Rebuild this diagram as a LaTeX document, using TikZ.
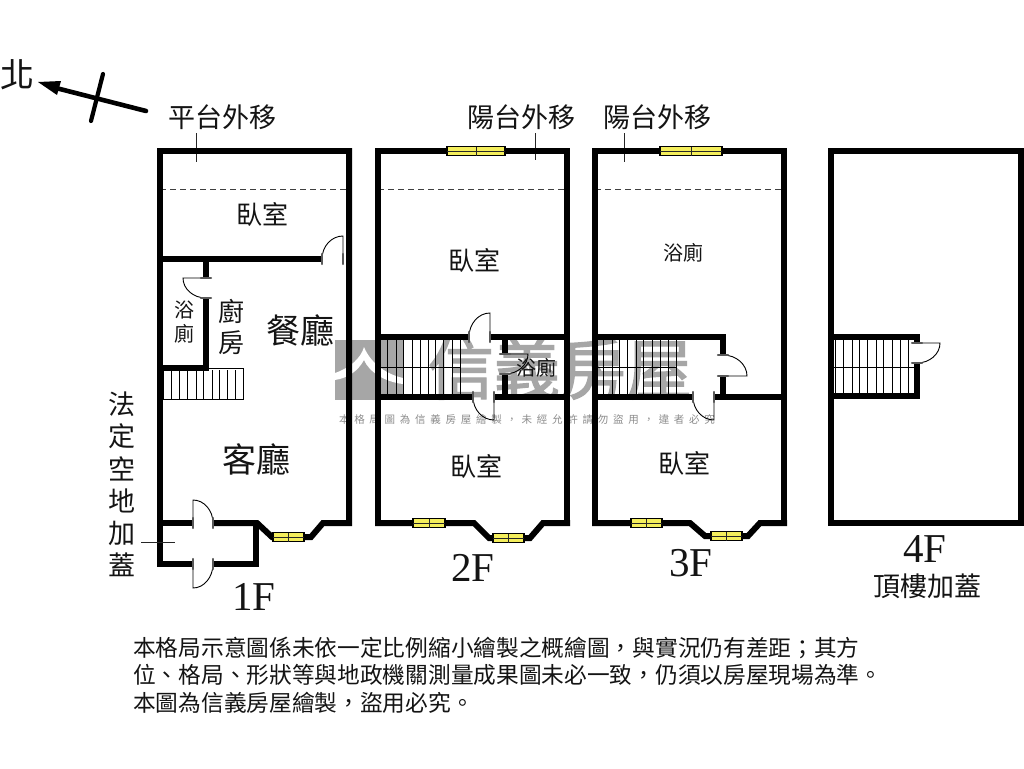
\documentclass[tikz,border=0pt]{standalone}
\usepackage{fontspec}
\usetikzlibrary{calc}
\setmainfont{Liberation Serif}
\newfontfamily\cjk{Noto Sans CJK TC}
\newfontfamily\wmbig[FakeBold=2]{Noto Sans CJK TC}
\newfontfamily\wmsmall[LetterSpace=45]{Noto Sans CJK TC}
\definecolor{wmgray}{gray}{0.65}
\definecolor{winyellow}{HTML}{F4EE5C}
\newcommand{\sz}[1]{\fontsize{#1}{#1}\selectfont}
% hinge, leaf tip, jamb on far side
\newcommand{\doorswing}[3]{%
  \draw[doorline] (#1) -- (#2) .. controls ($(#2)+0.55*(#3)-0.55*(#1)$) and ($(#3)+0.55*(#2)-0.55*(#1)$) .. (#3);}
\newcommand{\windowbar}[3]{%
  \draw[winbox] (#1-#3,#2-4.5) rectangle (#1+#3,#2+4.5);
  \draw[winline] (#1-#3,#2) -- (#1+#3,#2) (#1,#2-4.5) -- (#1,#2+4.5);}
\tikzset{
  wall/.style={line width=6pt,line join=miter,line cap=butt,black},
  doorline/.style={line width=0.9pt,black},
  jamb/.style={line width=2.2pt,black!65,line cap=round},
  treads/.style={line width=1pt,black},
  lead/.style={line width=0.8pt,black!85},
  sep/.style={line width=0.9pt,black!75,dash pattern=on 6pt off 4pt},
  winbox/.style={draw=black,line width=1.2pt,fill=winyellow},
  winline/.style={line width=0.9pt,black!85},
  txt/.style={font=\cjk\sz{#1},inner sep=0pt,text=black!92},
  lat/.style={font=\rmfamily\sz{#1},inner sep=0pt,text=black!92},
}
\begin{document}
\begin{tikzpicture}[x=1pt,y=-1pt]
\useasboundingbox (0,0) rectangle (1024,768);
\fill[white] (0,0) rectangle (1024,768);

% ---- watermark ----
\fill[wmgray] (335,340) rectangle (403,400);
\fill[white] (335,373) .. controls (350,368) and (361,358) .. (364,347)
  .. controls (370,362) and (385,374) .. (403,378) -- (403,384)
  .. controls (385,382) and (369,372) .. (364,360)
  .. controls (358,371) and (348,378) .. (335,380) -- cycle;
\node[font=\wmbig\sz{66},text=wmgray,inner sep=0pt] (wmA) at (560,369) {信義房屋};
\node[font=\wmsmall\sz{10.5},text=black!45,inner sep=0pt] (wmB) at (527,420) {本格局圖為信義房屋繪製，未經允許請勿盜用，違者必究};

% ---- north arrow ----
\draw[line width=4.6pt,line cap=round] (146,111) -- (56,88);
\fill (38,82) -- (61,81) -- (57,95) -- cycle;
\draw[line width=4.2pt,line cap=round] (103,74) -- (91,121);
\node[txt=34] (north) at (17,75) {北};

% ---- 1F ----
\draw[lead] (196,133) -- (196,162);
\draw[sep] (160,189) -- (349,189);
\draw[treads] (163,368) rectangle (243,399);
\foreach \x in {171,179,187,196,203,212,219,227,235} \draw[treads] (\x,370) -- (\x,399);
\draw[wall] (322,259) -- (160,259);
\draw[wall] (206,259) -- (206,278);
\draw[wall] (206,298) -- (206,371);
\draw[wall] (160,368) -- (209,368);
\draw[wall] (192,523) -- (157,523);
\draw[wall] (160,148) -- (160,567);
\draw[wall] (157,151) -- (352,151);
\draw[wall] (349,148) -- (349,523) -- (323,523) -- (311,537) -- (304,537);
\draw[wall] (213,523) -- (257,523) -- (272,537) -- (280,537);
\draw[wall] (157,564) -- (192,564);
\draw[wall] (213,564) -- (259,564);
\draw[wall] (256,523) -- (256,567);
\windowbar{288.5}{537}{15.5}
\doorswing{343,259}{343,236}{322,259}
\doorswing{206,278}{183,278}{206,298}
\doorswing{193,523}{193,500}{213,523}
\doorswing{193,564}{193,588}{213,564}
\draw[jamb] (322,254) -- (322,264) (343,254) -- (343,264);
\draw[jamb] (201,278) -- (211,278) (201,298) -- (211,298);
\draw[jamb] (193,518) -- (193,528) (213,518) -- (213,528);
\draw[jamb] (193,559) -- (193,569) (213,559) -- (213,569);
\draw[lead] (141,542) -- (175,542);

% ---- 2F ----
\draw[lead] (535,133) -- (535,160);
\draw[sep] (378,189) -- (567,189);
\foreach \x in {387,396,403,412,420,428,435,443,452,460} \draw[treads] (\x,340) -- (\x,394);
\draw[treads] (381,367) -- (460,367);
\draw[wall] (378,148) -- (378,526);
\draw[wall] (567,148) -- (567,526);
\draw[wall] (375,151) -- (570,151);
\draw[wall] (375,337) -- (469,337);
\draw[wall] (490,337) -- (570,337);
\draw[wall] (375,397) -- (473,397);
\draw[wall] (494,397) -- (570,397);
\draw[wall] (505,337) -- (505,354);
\draw[wall] (505,374) -- (505,397);
\draw[wall] (375,523) -- (474,523) -- (489,538) -- (500,538);
\draw[wall] (518,538) -- (530,538) -- (543,523) -- (570,523);
\windowbar{476}{151}{29}
\windowbar{429}{523}{16}
\windowbar{508.5}{538}{15.5}
\doorswing{490,337}{490,313}{469,337}
\doorswing{494,397}{494,420}{473,397}
\doorswing{505,354}{528,354}{505,374}
\draw[jamb] (469,332) -- (469,342) (490,332) -- (490,342);
\draw[jamb] (473,392) -- (473,402) (494,392) -- (494,402);
\draw[jamb] (500,354) -- (510,354) (500,374) -- (510,374);

% ---- 3F ----
\draw[lead] (624,133) -- (624,162);
\draw[sep] (595,189) -- (784,189);
\foreach \x in {603,612,619,627,636,643,652,660,668,676} \draw[treads] (\x,340) -- (\x,394);
\draw[treads] (598,367) -- (676,367);
\draw[wall] (595,148) -- (595,526);
\draw[wall] (784,148) -- (784,526);
\draw[wall] (592,151) -- (787,151);
\draw[wall] (592,337) -- (726,337);
\draw[wall] (723,334) -- (723,355);
\draw[wall] (723,376) -- (723,400);
\draw[wall] (592,397) -- (693,397);
\draw[wall] (714,397) -- (787,397);
\draw[wall] (592,523) -- (690,523) -- (705,536) -- (716,536);
\draw[wall] (736,536) -- (748,536) -- (760,523) -- (787,523);
\windowbar{691}{151}{31}
\windowbar{646.5}{523}{15.5}
\windowbar{726.5}{536}{15.5}
\doorswing{723,376}{747,376}{723,355}
\doorswing{714,397}{714,420}{693,397}
\draw[jamb] (718,355) -- (728,355) (718,376) -- (728,376);
\draw[jamb] (693,392) -- (693,402) (714,392) -- (714,402);

% ---- 4F ----
\foreach \x in {835,843,852,859,867,876,883,892,900,908} \draw[treads] (\x,340) -- (\x,393);
\draw[treads] (834,367) -- (914,367);
\draw[wall] (831,151) rectangle (1021,523);
\draw[wall] (831,337) -- (920,337);
\draw[wall] (831,396) -- (920,396);
\draw[wall] (917,334) -- (917,343);
\draw[wall] (917,363) -- (917,399);
\doorswing{917,343}{940,343}{917,363}
\draw[jamb] (912,343) -- (922,343) (912,363) -- (922,363);

% ---- labels ----
\node[txt=27] (lb1) at (222,117) {平台外移};
\node[txt=27] (lb2) at (521,117) {陽台外移};
\node[txt=27] (lb3) at (657,117) {陽台外移};
\node[txt=26] (r1) at (262,214) {臥室};
\node[txt=26] (r2) at (474,260) {臥室};
\node[txt=20] (r3) at (683,253) {浴廁};
\node[txt=20] (r4) at (536,368) {浴廁};
\node[txt=26] (r5) at (476,466) {臥室};
\node[txt=26] (r6) at (684,463) {臥室};
\node[txt=34] (r7) at (256,459) {客廳};
\node[txt=34] (r8) at (300,330) {餐廳};
\node[txt=26] (k1) at (231,311) {廚};
\node[txt=26] (k2) at (231,343) {房};
\node[txt=20] (b1) at (184,310) {浴};
\node[txt=20] (b2) at (184,334) {廁};
\node[txt=27] (v1) at (122,404) {法};
\node[txt=27] (v2) at (122,436) {定};
\node[txt=27] (v3) at (122,469) {空};
\node[txt=27] (v4) at (122,501) {地};
\node[txt=27] (v5) at (122,533) {加};
\node[txt=27] (v6) at (122,565) {蓋};
\node[lat=41] (f1) at (254,597) {1F};
\node[lat=41] (f2) at (473,568) {2F};
\node[lat=41] (f3) at (691,563) {3F};
\node[lat=41] (f4) at (925,549) {4F};
\node[txt=27] (f4b) at (927,586) {頂樓加蓋};
\node[txt=22.7,anchor=west] (n1) at (133,648) {本格局示意圖係未依一定比例縮小繪製之概繪圖，與實況仍有差距；其方};
\node[txt=22.7,anchor=west] (n2) at (133,675) {位、格局、形狀等與地政機關測量成果圖未必一致，仍須以房屋現場為準。};
\node[txt=22.7,anchor=west] (n3) at (133,703) {本圖為信義房屋繪製，盜用必究。};
\end{tikzpicture}
\end{document}
